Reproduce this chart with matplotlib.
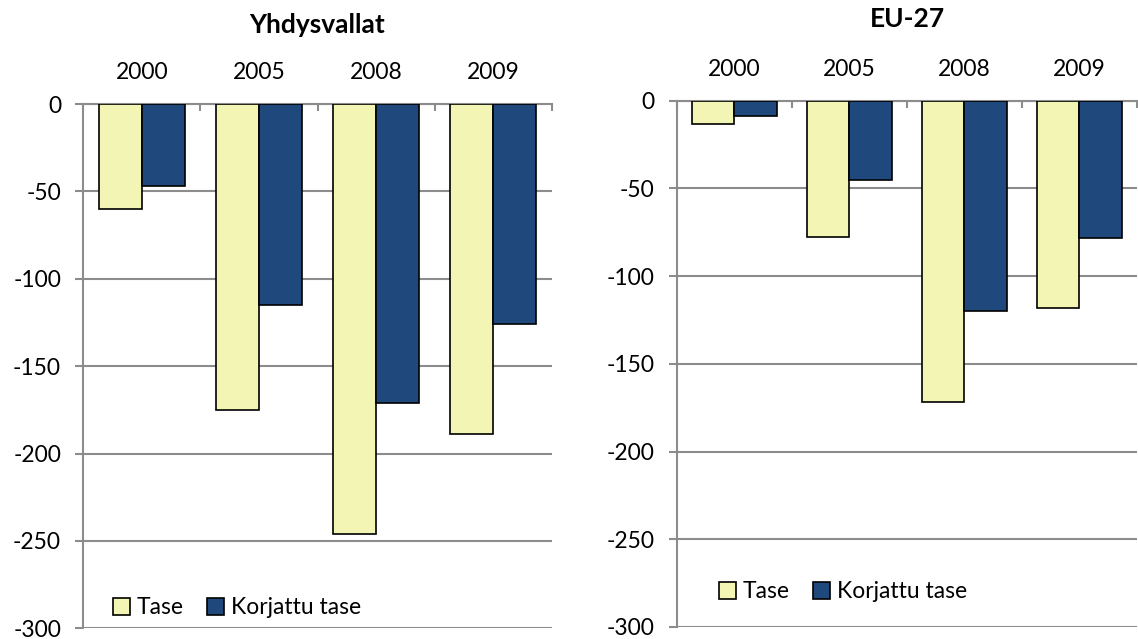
import matplotlib.pyplot as plt
import numpy as np

plt.rcParams["font.family"] = ["Lato", "DejaVu Sans"]
plt.rcParams["axes.unicode_minus"] = False

# data
years = ["2000", "2005", "2008", "2009"]
us_tase = [-60, -175, -246, -189]
us_korjattu = [-47, -115, -171, -126]
eu_tase = [-13, -77.5, -172, -118]
eu_korjattu = [-9, -45, -120, -78.5]

c_tase = "#F2F5B3"
c_korj = "#1F497D"
grid_c = "#8C8C8C"

fig = plt.figure(figsize=(11.38, 6.39), dpi=100)
ax1 = fig.add_axes([0.0732, 0.0167, 0.4116, 0.8205])
ax2 = fig.add_axes([0.5949, 0.0188, 0.4042, 0.8236])

x = np.arange(len(years))
w = 0.367


def draw(ax, tase, korj, title, leg_xy, title_y):
    ax.bar(x - w / 2, tase, w, color=c_tase, edgecolor="black", linewidth=1.2,
           label="Tase", zorder=3)
    ax.bar(x + w / 2, korj, w, color=c_korj, edgecolor="black", linewidth=1.2,
           label="Korjattu tase", zorder=3)
    ax.set_xlim(-0.5, 3.5)
    ax.set_ylim(-300, 0)
    ax.set_yticks(np.arange(-300, 1, 50))
    ax.yaxis.grid(True, color=grid_c, linewidth=1.5, zorder=0)
    ax.tick_params(axis="y", length=6, width=1.5, color=grid_c, labelsize=16.5,
                   pad=10)
    # category axis at the top (zero line)
    ax.xaxis.tick_top()
    ax.set_xticks(x)
    ax.set_xticklabels(years)
    ax.tick_params(axis="x", which="major", length=0, labelsize=16.5, pad=15)
    ax.set_xticks(np.arange(-0.5, 4, 1), minor=True)
    ax.tick_params(axis="x", which="minor", direction="in", length=5, width=1.5,
                   color=grid_c, top=True, bottom=False)
    for s in ["right", "bottom"]:
        ax.spines[s].set_visible(False)
    for s in ["left", "top"]:
        ax.spines[s].set_color(grid_c)
        ax.spines[s].set_linewidth(1.5)
    ax.set_title(title, fontsize=19, fontweight="bold", y=title_y)
    ax.legend(loc="center left", bbox_to_anchor=leg_xy, ncol=2, frameon=False,
              fontsize=16.5, handlelength=0.75, handleheight=0.75,
              handletextpad=0.3, columnspacing=1.0, borderpad=0,
              borderaxespad=0)


draw(ax1, us_tase, us_korjattu, "Yhdysvallat", (0.063, 0.039), 1.12)
draw(ax2, eu_tase, eu_korjattu, "EU-27", (0.091, 0.067), 1.125)

fig.savefig("out.png", dpi=100)
